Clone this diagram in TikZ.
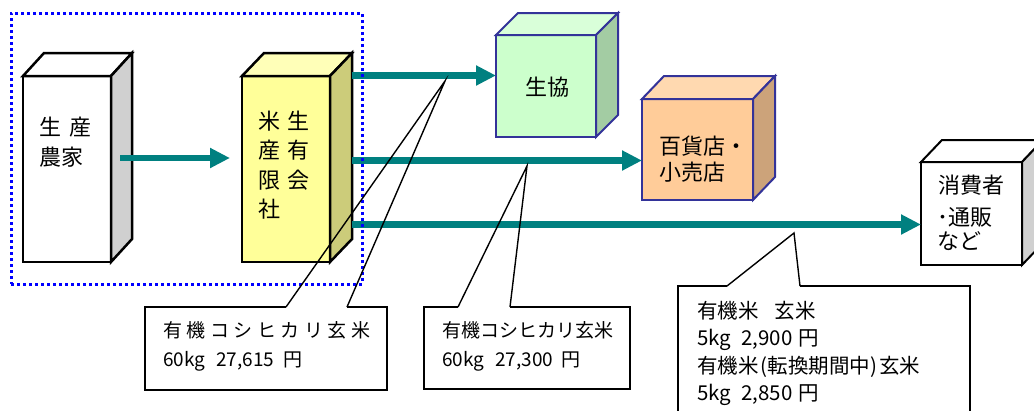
\documentclass[tikz,border=0pt]{standalone}
\usepackage{fontspec}
\setmainfont{Noto Sans CJK JP}
\usetikzlibrary{arrows.meta,calc}
\definecolor{arrteal}{HTML}{008080}
\definecolor{grpblue}{HTML}{0000FF}
\definecolor{cubeblue}{HTML}{333399}
\definecolor{graySide}{HTML}{D0D0D0}
\definecolor{yelFront}{HTML}{FFFF99}
\definecolor{yelSide}{HTML}{CCCC7A}
\definecolor{yelTop}{HTML}{FFFFB8}
\definecolor{grnFront}{HTML}{CCFFCC}
\definecolor{grnSide}{HTML}{A3CCA3}
\definecolor{grnTop}{HTML}{D9FFD9}
\definecolor{orFront}{HTML}{FFCC99}
\definecolor{orSide}{HTML}{CCA37A}
\definecolor{orTop}{HTML}{FFD9B0}
\newcommand\cubesides[6]{%
  \filldraw[fill=#5, draw=#6] (#1.north west) -- ($(#1.north west)+(#2,-#3)$) -- ($(#1.north east)+(#2,-#3)$) -- (#1.north east) -- cycle;
  \filldraw[fill=#4, draw=#6] (#1.north east) -- ($(#1.north east)+(#2,-#3)$) -- ($(#1.south east)+(#2,-#3)$) -- (#1.south east) -- cycle;}
\newcommand\lsp{\hspace{4.5pt}}
\tikzset{
  face/.style={draw, outer sep=0pt, inner sep=0pt, anchor=north west},
  arr/.style={draw=arrteal, line width=6.5pt, -{Triangle[length=20pt,width=19pt,fill=arrteal]}},
  tx/.style={anchor=base west, inner sep=0pt, font=\fontsize{22}{26}\selectfont},
  ctx/.style={anchor=base west, inner sep=0pt, font=\fontsize{19}{22}\selectfont},
  ctxb/.style={anchor=base west, inner sep=0pt, font=\fontsize{20.5}{24}\selectfont},
  cbody/.style={fill=white, outer sep=0pt, inner sep=0pt, anchor=north west},
  cline/.style={black, line width=2pt},
  pline/.style={black, line width=1.4pt},
}
\begin{document}
\begin{tikzpicture}[x=1pt,y=-1pt]
\useasboundingbox (0,0) rectangle (1034,410);
\clip (0,0) rectangle (1034,410);
\fill[white] (0,0) rectangle (1034,410);
% box 1
\begin{scope}[line width=2.5pt]
\node[face, fill=white, minimum width=88pt, minimum height=186pt] (f1) at (23,76) {};
\cubesides{f1}{21}{23}{graySide}{white}{black}
\end{scope}
\node[tx] (t1a) at (39,135.5) {生\hspace{8pt}産};
\node[tx] (t1b) at (39,165) {農家};
% box 2
\begin{scope}[line width=2.5pt]
\node[face, fill=yelFront, minimum width=88pt, minimum height=186pt] (f2) at (242,76) {};
\cubesides{f2}{22}{23}{yelSide}{yelTop}{black}
\end{scope}
\node[tx] (t2a) at (258,129.5) {米\hspace{7pt}生};
\node[tx] (t2b) at (258,158.5) {産\hspace{7pt}有};
\node[tx] (t2c) at (258,188) {限\hspace{7pt}会};
\node[tx] (t2d) at (258,217.5) {社};
% box 3
\begin{scope}[line width=2pt]
\node[face, fill=grnFront, draw=cubeblue, minimum width=100pt, minimum height=102pt] (f3) at (496,35) {};
\cubesides{f3}{22}{22}{grnSide}{grnTop}{cubeblue}
\end{scope}
\node[anchor=base, inner sep=0pt, font=\fontsize{22}{26}\selectfont] (t3) at (547,95.5) {生協};
% box 4
\begin{scope}[line width=2pt]
\node[face, fill=orFront, draw=cubeblue, minimum width=111pt, minimum height=101pt] (f4) at (642,99) {};
\cubesides{f4}{22}{23}{orSide}{orTop}{cubeblue}
\end{scope}
\node[tx] (t4a) at (659,154.5) {百貨店・};
\node[tx] (t4b) at (659,180.5) {小売店};
% box 5
\begin{scope}[line width=2pt]
\node[face, fill=white, minimum width=101pt, minimum height=103pt] (f5) at (921,162) {};
\cubesides{f5}{21}{22}{graySide}{white}{black}
\end{scope}
\node[tx] (t5a) at (938,193.5) {消費者};
\node[tx] (t5b) at (937,225.5) {･通販};
\node[tx] (t5c) at (937,249.5) {など};
% arrows
\coordinate (s1) at ($(f2.north east)+(22,-0.5)$);
\coordinate (s2) at ($(f2.north east)+(22,84.5)$);
\coordinate (s3) at ($(f2.north east)+(22,148.5)$);
\draw[arr] ($(f1.east)+(9,-11)$) -- ($(f2.west)+(-12,-11)$);
\draw[arr] (s1) -- (f3.west |- s1);
\draw[arr] (s2) -- (f4.west |- s2);
\draw[arr] (s3) -- (f5.west |- s3);
% group outline
\node[draw=grpblue, line width=3pt, dash pattern=on 3pt off 3pt, outer sep=0pt, inner sep=0pt, anchor=north west, minimum width=351pt, minimum height=271pt] (grp) at (11,13) {};
% callout 1
\coordinate (k1) at (445,81);
\node[cbody, minimum width=242pt, minimum height=83pt] (c1) at (145,307) {};
\draw[cline] ($(c1.north west)+(141,0)$) -- (c1.north west) -- (c1.south west) -- (c1.south east) -- (c1.north east) -- ($(c1.north west)+(202,0)$);
\draw[pline] ($(c1.north west)+(141,0)$) -- (k1) -- ($(c1.north west)+(202,0)$);
\node[ctx] (c1a) at (163,337) {有\lsp 機\lsp コ\lsp シ\lsp ヒ\lsp カ\lsp リ\lsp 玄\lsp 米};
\node[ctx] (c1b) at (163,366) {60kg\hspace{11pt}27,615\hspace{9pt}円};
% callout 2
\coordinate (k2) at (527,166);
\node[cbody, minimum width=206pt, minimum height=82pt] (c2) at (424,307) {};
\draw[cline] ($(c2.north west)+(34,0)$) -- (c2.north west) -- (c2.south west) -- (c2.south east) -- (c2.north east) -- ($(c2.north west)+(86,0)$);
\draw[pline] ($(c2.north west)+(34,0)$) -- (k2) -- ($(c2.north west)+(86,0)$);
\node[ctx] (c2a) at (442,337) {有機コシヒカリ玄米};
\node[ctx] (c2b) at (442,366) {60kg\hspace{11pt}27,300\hspace{8pt}円};
% callout 3
\coordinate (k3) at (794,233);
\node[cbody, minimum width=292pt, minimum height=144pt] (c3) at (678,286) {};
\draw[cline] ($(c3.north west)+(49,0)$) -- (c3.north west) -- (c3.south west) -- (c3.south east) -- (c3.north east) -- ($(c3.north west)+(122,0)$);
\draw[pline] ($(c3.north west)+(49,0)$) -- (k3) -- ($(c3.north west)+(122,0)$);
\node[ctxb] (c3a) at (697,318) {有機米\hspace{16pt}玄米};
\node[ctxb] (c3b) at (697,345.5) {5kg\hspace{10pt}2,900\hspace{6pt}円};
\node[ctxb] (c3c) at (697,373) {有機米\hspace{2pt}(転換期間中)\hspace{2pt}玄米};
\node[ctxb] (c3d) at (697,400.5) {5kg\hspace{10pt}2,850\hspace{6pt}円};
\end{tikzpicture}
\end{document}
